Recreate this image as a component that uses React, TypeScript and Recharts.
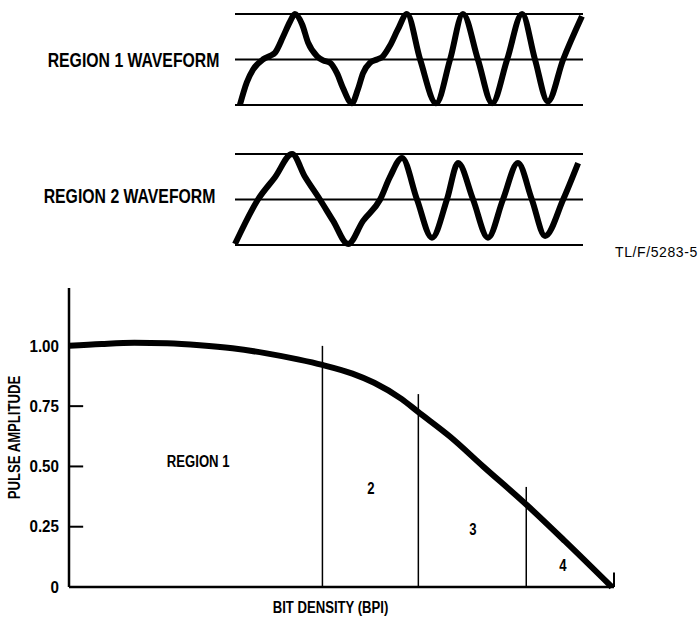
import React from 'react';
import {
  LineChart,
  Line,
  XAxis,
  YAxis,
  ReferenceLine,
  ReferenceDot
} from 'recharts';

const FONT = '"Liberation Sans", Arial, sans-serif';

// Region 1 waveform: isolated pulses, then a tight run (normalised -1..1)
const wave1Time = [1.4, 3.4, 5.2, 8.0, 10.1, 11.5, 13.8, 15.8, 17.2, 19.3, 21.0, 23.6, 25.3, 27.3, 29.3, 31.0, 33.6, 35.3, 36.8, 38.8, 40.8, 42.5, 44.5, 46.8, 49.4, 53.2, 57.8, 61.8, 65.5, 69.8, 73.9, 78.2, 82.5, 86.2, 89.9, 94.3, 99.7];
const wave1Level = [-1.0, -0.5, -0.22, 0.0, 0.08, 0.15, 0.5, 0.83, 1.0, 0.77, 0.37, 0.07, -0.02, -0.07, -0.3, -0.62, -0.96, -0.66, -0.3, -0.07, 0.0, 0.07, 0.3, 0.66, 1.0, 0.0, -0.96, 0.0, 1.0, 0.0, -0.96, 0.0, 1.0, 0.0, -0.92, 0.0, 0.95];

// Region 2 waveform: pulses interfere, amplitude drops
const wave2Time = [0, 6.6, 11.5, 16.4, 20.1, 24.4, 28.2, 32.5, 36.8, 41.7, 44.5, 48.0, 52.3, 56.6, 60.9, 64.1, 68.4, 72.7, 77.0, 81.3, 85.3, 89.1, 94.3, 98.6];
const wave2Level = [-0.98, 0.0, 0.49, 1.0, 0.5, 0.0, -0.47, -0.98, -0.47, 0.0, 0.49, 0.91, 0.0, -0.84, 0.0, 0.8, 0.0, -0.84, 0.0, 0.8, 0.0, -0.8, 0.0, 0.8];

// Pulse amplitude vs bit density (density in arbitrary units 0..100)
const density = [0, 6, 12, 18, 24, 30, 36, 42, 46.5, 52, 56, 61, 64, 70, 76, 84, 91, 99.6];
const amplitude = [1.0, 1.008, 1.013, 1.011, 1.003, 0.99, 0.97, 0.944, 0.921, 0.885, 0.847, 0.78, 0.727, 0.622, 0.5, 0.34, 0.19, 0.0];

const yTicks = [0, 0.25, 0.5, 0.75, 1.0];
const regionBounds = [46.5, 64.1, 83.9];
const regionTops = [1.0, 0.8, 0.415];
const regionLabels = ['REGION 1', '2', '3', '4'];
const regionLabelX = [23.7, 55.4, 74.1, 90.6];
const regionLabelY = [0.52, 0.407, 0.237, 0.087];

const wave1Data = wave1Time.map((t, i) => ({ t, v: wave1Level[i] }));
const wave2Data = wave2Time.map((t, i) => ({ t, v: wave2Level[i] }));
const curveData = density.map((d, i) => ({ d, a: amplitude[i] }));

// condensed bold lettering, squeezed horizontally like the original drafting font
const NarrowText: React.FC<{
  x: number;
  y: number;
  anchor?: 'start' | 'middle' | 'end';
  size?: number;
  sx?: number;
  angle?: number;
  children: React.ReactNode;
}> = ({ x, y, anchor = 'middle', size = 16, sx = 0.82, angle = 0, children }) => (
  <text
    transform={`translate(${x},${y}) rotate(${angle}) scale(${sx},1)`}
    textAnchor={anchor}
    dominantBaseline="central"
    fontFamily={FONT}
    fontWeight="bold"
    fontSize={size}
    fill="#000"
  >
    {children}
  </text>
);

const labelStyle: React.CSSProperties = {
  position: 'absolute',
  fontFamily: FONT,
  fontWeight: 'bold',
  fontSize: 20,
  lineHeight: '20px',
  textAlign: 'right',
  color: '#000',
  whiteSpace: 'nowrap',
  transform: 'scaleX(0.79)',
  transformOrigin: 'right center'
};

const Waveform: React.FC<{ data: { t: number; v: number }[]; top: number }> = ({ data, top }) => (
  <div style={{ position: 'absolute', left: 0, top }}>
    <LineChart width={699} height={120} data={data} margin={{ top: 14, right: 116, left: 235, bottom: 15 }}>
      <XAxis type="number" dataKey="t" domain={[0, 100]} hide />
      <YAxis type="number" domain={[-1, 1]} hide />
      {[1, 0, -1].map((y) => (
        <ReferenceLine key={y} y={y} stroke="#000" strokeWidth={2} />
      ))}
      <Line
        type="monotone"
        dataKey="v"
        stroke="#000"
        strokeWidth={6}
        dot={false}
        isAnimationActive={false}
      />
    </LineChart>
  </div>
);

const App: React.FC = () => {
  return (
    <div style={{ position: 'absolute', left: 0, top: 0, width: 699, height: 617, background: '#fff', overflow: 'hidden' }}>
      <div style={{ ...labelStyle, right: 699 - 219, top: 50 }}>REGION 1 WAVEFORM</div>
      <div style={{ ...labelStyle, right: 699 - 215, top: 186 }}>REGION 2 WAVEFORM</div>
      <Waveform data={wave1Data} top={0} />
      <Waveform data={wave2Data} top={140} />
      <div
        style={{
          position: 'absolute',
          left: 615,
          top: 244,
          fontFamily: FONT,
          fontSize: 14,
          letterSpacing: 0.6,
          color: '#000'
        }}
      >
        TL/F/5283-5
      </div>

      <div style={{ position: 'absolute', left: 0, top: 270 }}>
        <LineChart width={699} height={347} data={curveData} margin={{ top: 18, right: 85, left: 0, bottom: 0 }}>
          <XAxis
            type="number"
            dataKey="d"
            domain={[0, 100]}
            tick={false}
            tickLine={false}
            height={30}
            axisLine={{ stroke: '#000', strokeWidth: 2.5 }}
            label={{
              content: ({ viewBox }: any) => (
                <NarrowText x={viewBox.x + viewBox.width / 2 - 11} y={viewBox.y + 21}>
                  BIT DENSITY (BPI)
                </NarrowText>
              )
            }}
          />
          <YAxis
            type="number"
            domain={[0, 1.24]}
            ticks={yTicks}
            width={69}
            tickSize={0}
            tickMargin={10}
            tickLine={false}
            axisLine={{ stroke: '#000', strokeWidth: 2.5 }}
            tick={({ x, y, payload }: any) => (
              <NarrowText x={x} y={y} anchor="end" sx={0.95}>
                {payload.value === 0 ? '0' : payload.value.toFixed(2)}
              </NarrowText>
            )}
            label={{
              content: ({ viewBox }: any) => (
                <NarrowText x={viewBox.x + 15} y={viewBox.y + viewBox.height / 2} angle={-90}>
                  PULSE AMPLITUDE
                </NarrowText>
              )
            }}
          />
          {yTicks.slice(1).map((y) => (
            <ReferenceLine
              key={y}
              segment={[{ x: 0, y }, { x: 2.6, y }]}
              stroke="#000"
              strokeWidth={2}
            />
          ))}
          {regionBounds.map((x, i) => (
            <ReferenceLine
              key={x}
              segment={[{ x, y: 0 }, { x, y: regionTops[i] }]}
              stroke="#000"
              strokeWidth={1.5}
            />
          ))}
          <ReferenceLine segment={[{ x: 100, y: 0 }, { x: 100, y: 0.06 }]} stroke="#000" strokeWidth={2} />
          {regionLabels.map((text, i) => (
            <ReferenceDot
              key={text}
              x={regionLabelX[i]}
              y={regionLabelY[i]}
              r={0}
              stroke="none"
              fill="none"
              label={{
                content: ({ viewBox }: any) => (
                  <NarrowText x={viewBox.x + (viewBox.width || 0) / 2} y={viewBox.y + (viewBox.height || 0) / 2}>
                    {text}
                  </NarrowText>
                )
              }}
            />
          ))}
          <Line
            type="monotone"
            dataKey="a"
            stroke="#000"
            strokeWidth={6}
            dot={false}
            isAnimationActive={false}
          />
        </LineChart>
      </div>
    </div>
  );
};

export default App;
